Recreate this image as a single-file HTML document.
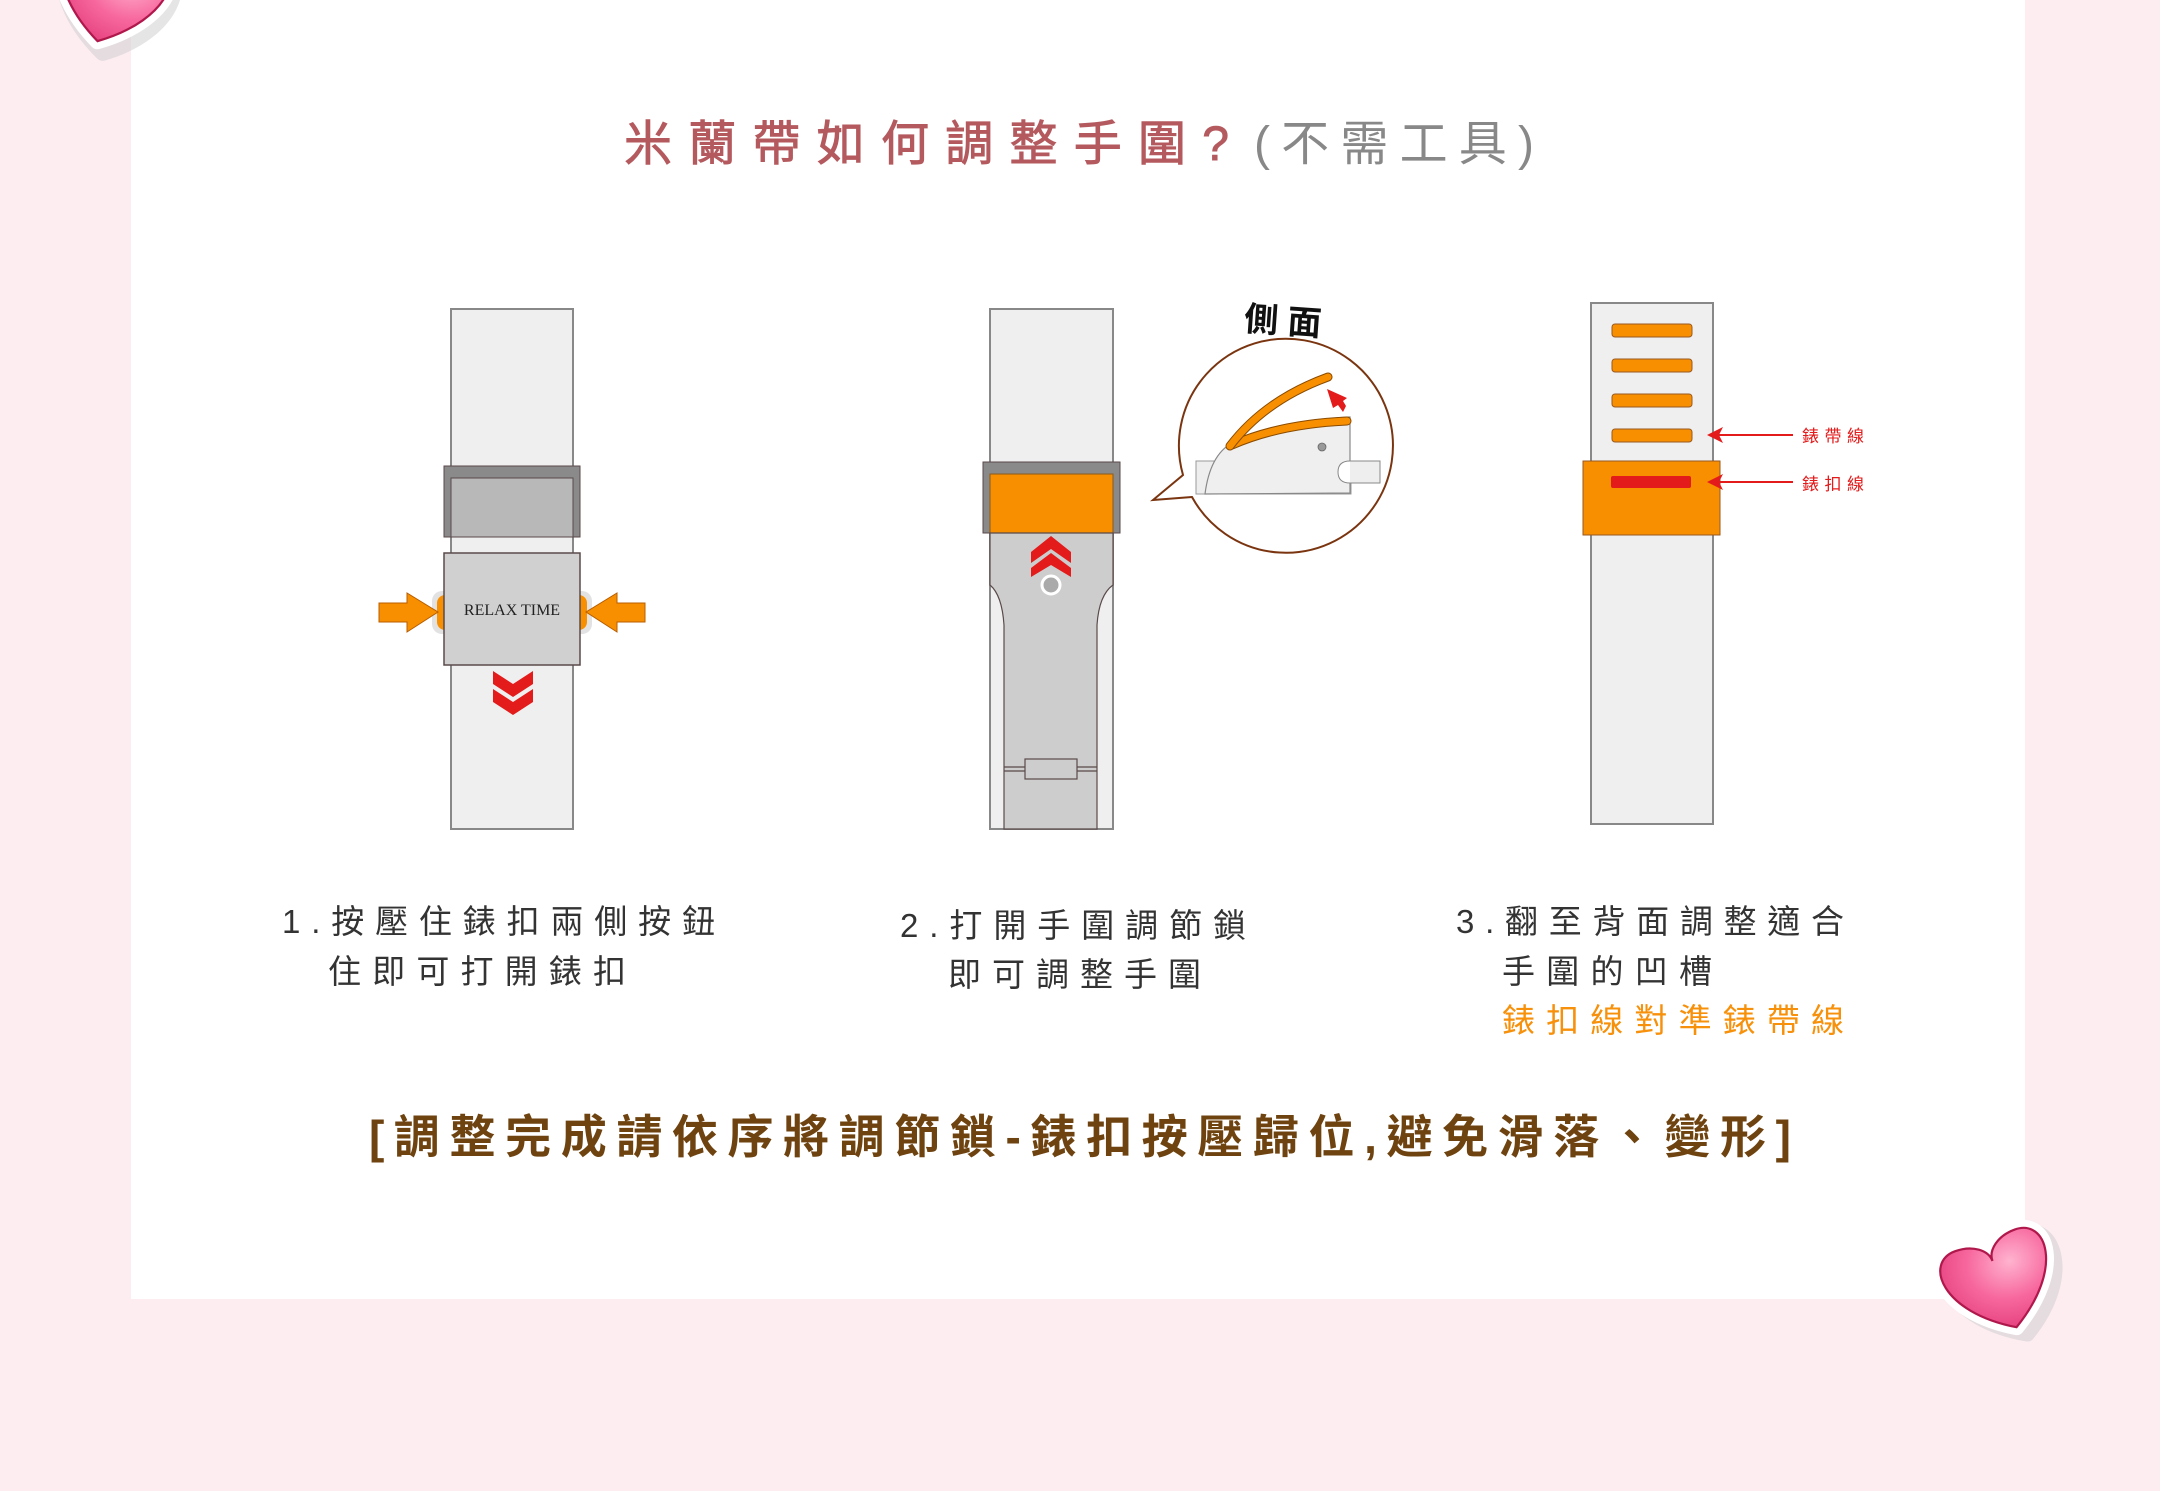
<!DOCTYPE html>
<html><head><meta charset="utf-8"><style>
html,body{margin:0;padding:0;}
body{width:2160px;height:1491px;background:#fdedf1;overflow:hidden;position:relative;}
svg{position:absolute;left:0;top:0;}
text{font-family:"Liberation Sans","Noto Sans CJK TC",sans-serif;}
</style></head><body>
<svg width="2160" height="1491" viewBox="0 0 2160 1491" xmlns="http://www.w3.org/2000/svg">
<defs>
<radialGradient id="hg" cx="0.65" cy="0.3" r="0.8">
<stop offset="0" stop-color="#ffb3cf"/><stop offset="0.5" stop-color="#f7689e"/><stop offset="1" stop-color="#e23a78"/>
</radialGradient>
<g id="heart">
<path d="M4,50 C-75,5 -74,-60 -36,-60 C-15,-60 0,-48 0,-35 C0,-48 15,-60 36,-60 C74,-60 78,5 4,50 Z" fill="#ccc" stroke="#ccc" stroke-width="18" stroke-linejoin="round" transform="translate(5,6)" opacity="0.5"/>
<path d="M0,45 C-75,0 -74,-60 -36,-60 C-15,-60 0,-48 0,-35 C0,-48 15,-60 36,-60 C74,-60 75,0 0,45 Z" fill="#fff" stroke="#fff" stroke-width="18" stroke-linejoin="round"/>
<path d="M0,45 C-75,0 -74,-60 -36,-60 C-15,-60 0,-48 0,-35 C0,-48 15,-60 36,-60 C74,-60 75,0 0,45 Z" fill="url(#hg)" stroke="#b0184c" stroke-width="2.5"/>
</g>
</defs>
<rect x="131" y="0" width="1894" height="1299" fill="#fff"/>
<use href="#heart" transform="translate(108,2) rotate(15) scale(0.9)"/>
<use href="#heart" transform="translate(2003,1290) rotate(-20) scale(0.88)"/>

<!-- title -->
<text x="624" y="160" font-size="48" fill="#b45a5e" stroke="#b45a5e" stroke-width="0.9" textLength="605" lengthAdjust="spacing">米蘭帶如何調整手圍?</text>
<text x="1254" y="160" font-size="48" fill="#888" textLength="280" lengthAdjust="spacing">(不需工具)</text>

<!-- Panel 1 -->
<rect x="451" y="309" width="122" height="520" fill="#efefef" stroke="#888" stroke-width="2"/>
<rect x="444" y="466" width="136" height="71" fill="#8a8a8a" stroke="#5a4a4a" stroke-width="1"/>
<rect x="451" y="478" width="122" height="59" fill="#b8b8b8" stroke="#5a4a4a" stroke-width="1"/>
<rect x="432" y="591" width="160" height="43" rx="10" fill="#e2e2e2"/>
<rect x="437" y="595" width="150" height="35" rx="8" fill="#f78f00"/>
<rect x="444" y="553" width="136" height="112" fill="#d0d0d0" stroke="#5a4a4a" stroke-width="1.5"/>
<text x="512" y="615" font-size="16" fill="#222" text-anchor="middle" style="font-family:'Liberation Serif',serif">RELAX TIME</text>
<polygon points="379,603 407,603 407,593 438,612 407,632 407,622 379,622" fill="#f78f00" stroke="#b85d00" stroke-width="1"/>
<polygon points="645,603 617,603 617,593 586,612 617,632 617,622 645,622" fill="#f78f00" stroke="#b85d00" stroke-width="1"/>
<polygon points="493,671 513,684 533,671 533,684 513,697 493,684" fill="#e31b1b"/>
<polygon points="493,689 513,702 533,689 533,702 513,715 493,702" fill="#e31b1b"/>

<!-- Panel 2 -->
<rect x="990" y="309" width="123" height="520" fill="#efefef" stroke="#888" stroke-width="2"/>
<rect x="983" y="462" width="137" height="71" fill="#8a8a8a" stroke="#5a4a4a" stroke-width="1"/>
<rect x="990" y="474" width="123" height="59" fill="#f78f00" stroke="#8a5a20" stroke-width="1"/>
<path d="M990,533 L1113,533 L1113,585 Q1099,595 1097,625 L1097,829 L1004,829 L1004,625 Q1002,595 990,585 Z" fill="#cdcdcd" stroke="#5a4a4a" stroke-width="1.2"/>
<line x1="1004" y1="767" x2="1097" y2="767" stroke="#5a4a4a" stroke-width="1.2"/>
<line x1="1004" y1="771" x2="1097" y2="771" stroke="#5a4a4a" stroke-width="1.2"/>
<rect x="1025" y="759" width="52" height="20" fill="#cdcdcd" stroke="#5a4a4a" stroke-width="1.2"/>
<polygon points="1031,552 1051,536 1071,552 1071,563 1051,549 1031,563" fill="#e31b1b"/>
<polygon points="1031,568 1051,553 1071,568 1071,577 1051,565 1031,577" fill="#e31b1b"/>
<circle cx="1051" cy="585" r="9" fill="#aaa" stroke="#fff" stroke-width="3"/>

<!-- bubble -->
<path d="M1192,497 L1153,500 L1183,475 A107,107 0 1 1 1192,497 Z" fill="#fff" stroke="#7a3510" stroke-width="2"/>
<text x="1283" y="333" font-size="34" font-weight="bold" fill="#111" text-anchor="middle" transform="rotate(4 1283 320)">側 面</text>
<path d="M1196,461 L1351,461 L1351,494 L1196,494 Z" fill="#eee" stroke="#999" stroke-width="1"/>
<path d="M1205,494 Q1210,455 1232,443 Q1290,420 1350,417 L1350,493 Z" fill="#efefef" stroke="#888" stroke-width="1.2"/>
<path d="M1350,461 L1380,461 L1380,483 L1350,483" fill="#eee" stroke="#888" stroke-width="1"/>
<path d="M1350,461 Q1338,461 1338,472 Q1338,483 1350,483" fill="#fff" stroke="#888" stroke-width="1"/>
<circle cx="1322" cy="447" r="4" fill="#999" stroke="#666" stroke-width="0.8"/>
<path d="M1232,445 Q1280,424 1347,421" fill="none" stroke="#8a4a00" stroke-width="9" stroke-linecap="round"/>
<path d="M1232,445 Q1280,424 1347,421" fill="none" stroke="#f78f00" stroke-width="7" stroke-linecap="round"/>
<path d="M1230,446 Q1265,400 1328,377" fill="none" stroke="#8a4a00" stroke-width="9" stroke-linecap="round"/>
<path d="M1230,446 Q1265,400 1328,377" fill="none" stroke="#f78f00" stroke-width="7" stroke-linecap="round"/>
<polygon points="1327,389 1333,408 1338,405 1343,412 1346,406 1343,401 1347,398" fill="#e31b1b"/>

<!-- Panel 3 -->
<rect x="1591" y="303" width="122" height="521" fill="#efefef" stroke="#888" stroke-width="2"/>
<rect x="1612" y="324" width="80" height="13" rx="3" fill="#f78f00" stroke="#9a5a20" stroke-width="1"/>
<rect x="1612" y="359" width="80" height="13" rx="3" fill="#f78f00" stroke="#9a5a20" stroke-width="1"/>
<rect x="1612" y="394" width="80" height="13" rx="3" fill="#f78f00" stroke="#9a5a20" stroke-width="1"/>
<rect x="1612" y="429" width="80" height="13" rx="3" fill="#f78f00" stroke="#9a5a20" stroke-width="1"/>
<rect x="1583" y="461" width="137" height="74" fill="#f78f00" stroke="#9a5a20" stroke-width="1"/>
<rect x="1611" y="476" width="80" height="12" rx="2" fill="#e31b1b"/>
<line x1="1715" y1="435" x2="1793" y2="435" stroke="#e31b1b" stroke-width="2"/>
<polygon points="1707,435 1723,427 1719,435 1723,443" fill="#e31b1b"/>
<line x1="1715" y1="482" x2="1793" y2="482" stroke="#e31b1b" stroke-width="2"/>
<polygon points="1707,482 1723,474 1719,482 1723,490" fill="#e31b1b"/>
<text x="1802" y="442" font-size="17" fill="#e31b1b" textLength="62" lengthAdjust="spacing">錶帶線</text>
<text x="1802" y="490" font-size="17" fill="#e31b1b" textLength="62" lengthAdjust="spacing">錶扣線</text>

<!-- captions -->
<g font-size="33" fill="#333">
<text x="282" y="933" textLength="433" lengthAdjust="spacing">1.按壓住錶扣兩側按鈕</text>
<text x="328" y="983" textLength="298" lengthAdjust="spacing">住即可打開錶扣</text>
<text x="900" y="937" textLength="346" lengthAdjust="spacing">2.打開手圍調節鎖</text>
<text x="948" y="986" textLength="253" lengthAdjust="spacing">即可調整手圍</text>
<text x="1456" y="933" textLength="388" lengthAdjust="spacing">3.翻至背面調整適合</text>
<text x="1502" y="983" textLength="210" lengthAdjust="spacing">手圍的凹槽</text>
<text x="1502" y="1032" fill="#f7900a" textLength="342" lengthAdjust="spacing">錶扣線對準錶帶線</text>
</g>
<text x="369" y="1153" font-size="46" font-weight="bold" fill="#6e4310" textLength="1422" lengthAdjust="spacing">[調整完成請依序將調節鎖-錶扣按壓歸位,避免滑落、變形]</text>
</svg>
</body></html>
